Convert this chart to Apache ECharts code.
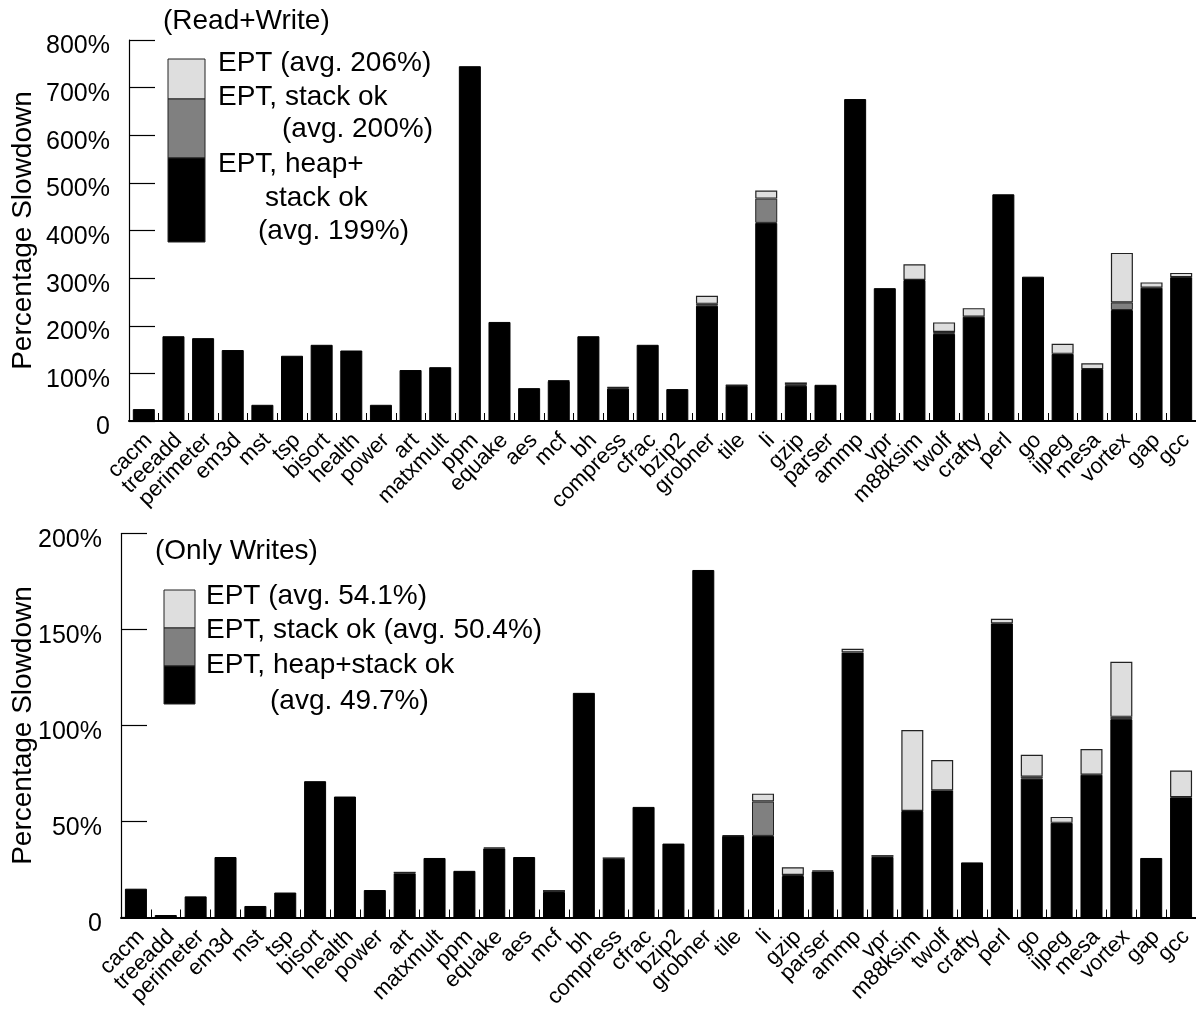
<!DOCTYPE html>
<html>
<head>
<meta charset="utf-8">
<script src="https://cdn.jsdelivr.net/npm/echarts@6/dist/echarts.min.js"></script>
<style>
  html, body { margin: 0; padding: 0; background: #fff; }
  #chart { width: 1196px; height: 1010px; }
</style>
</head>
<body>
<div id="chart"></div>
<script>
// Benchmarks on the x axis (same order in both panels)
const benchmarks = ['cacm', 'treeadd', 'perimeter', 'em3d', 'mst', 'tsp', 'bisort', 'health',
  'power', 'art', 'matxmult', 'ppm', 'equake', 'aes', 'mcf', 'bh', 'compress', 'cfrac',
  'bzip2', 'grobner', 'tile', 'li', 'gzip', 'parser', 'ammp', 'vpr', 'm88ksim', 'twolf',
  'crafty', 'perl', 'go', 'ijpeg', 'mesa', 'vortex', 'gap', 'gcc'];

// Read+Write checking: total slowdown (%) per configuration
const rwHeapStackOk = [25, 178, 174, 149, 34, 137, 160, 148, 34, 107, 113, 745, 208, 69, 84, 178, 68, 160,
  67, 242, 74, 416, 74, 76, 676, 279, 296, 183, 219, 476, 303, 141, 109, 233, 280, 302];
const rwStackOk = [25, 178, 174, 149, 34, 137, 160, 148, 34, 107, 113, 745, 208, 69, 86, 178, 70, 160,
  67, 246, 75, 467, 76, 76, 676, 279, 296, 187, 219, 476, 303, 141, 109, 249, 280, 302];
const rwEpt = [25, 178, 174, 149, 34, 137, 160, 148, 34, 107, 113, 745, 208, 69, 86, 178, 71, 160,
  67, 263, 76, 484, 81, 76, 676, 279, 329, 207, 237, 476, 303, 162, 121, 353, 291, 311];

// Write-only checking: total slowdown (%) per configuration
const wHeapStackOk = [15, 1.3, 11, 31.5, 6, 13, 71, 63, 14.3, 23, 31, 24.3, 36, 31.5, 13.3, 117, 30.5, 57.6,
  38.5, 181, 42.5, 42.5, 21.6, 24, 138, 31.6, 55.5, 66.2, 28.7, 153.2, 72.3, 49.3, 74.4, 103.3, 31, 62.6];
const wStackOk = [15, 1.3, 11, 31.5, 6, 13, 71, 63, 14.3, 23, 31, 24.3, 36, 31.5, 13.3, 117, 30.5, 57.6,
  38.5, 181, 42.5, 60.4, 22.2, 24, 138, 31.6, 55.5, 66.2, 28.7, 153.2, 73.3, 49.3, 74.4, 104.5, 31, 62.6];
const wEpt = [15, 1.3, 11, 31.5, 6, 13, 71, 63, 14.3, 23.8, 31, 24.3, 36.5, 31.5, 14.3, 117, 31.3, 57.6,
  38.5, 181, 42.8, 64.5, 26.2, 24.5, 140, 32.5, 97.6, 82, 28.7, 155.6, 84.8, 52.4, 87.7, 133.2, 31, 76.5];

// Axis ranges and legend captions
const rwAxis = { max: 800, step: 100 };
const wAxis = { max: 200, step: 50 };
const rwLegend = ['EPT (avg. 206%)', 'EPT, stack ok', '(avg. 200%)', 'EPT, heap+', 'stack ok', '(avg. 199%)'];
const wLegend = ['EPT (avg. 54.1%)', 'EPT, stack ok (avg. 50.4%)', 'EPT, heap+stack ok', '(avg. 49.7%)'];
const panelTitles = ['(Read+Write)', '(Only Writes)'];

const FONT = '"Liberation Sans", Arial, Helvetica, sans-serif';
const BLACK = '#000000', GRAY = '#808080', LIGHT = '#dedede';

// extra slowdown of one configuration on top of another (stack segment)
function increment(lower, upper) {
  return upper.map((v, i) => {
    const d = +(v - lower[i]).toFixed(2);
    return d > 0 ? d : '-';
  });
}

function pctLabel(v) { return v === 0 ? '0' : v + '%'; }

function xAxisFor(gridIndex) {
  return {
    type: 'category', gridIndex, data: benchmarks,
    axisLine: { lineStyle: { color: '#000', width: 2 } },
    axisTick: { show: true, inside: true, length: 8, alignWithLabel: false, lineStyle: { color: '#000', width: 1 } },
    axisLabel: { rotate: 45, interval: 0, fontSize: 22, color: '#000', fontFamily: FONT, margin: 11,
      verticalAlign: 'top', lineHeight: 14 }
  };
}

function yAxisFor(gridIndex, axis, nameGap) {
  return {
    type: 'value', gridIndex, min: 0, max: axis.max, interval: axis.step,
    name: 'Percentage Slowdown', nameLocation: 'middle', nameGap, nameRotate: 90, nameMoveOverlap: false,
    nameTextStyle: { fontSize: 28, color: '#000', fontFamily: FONT },
    axisLine: { show: true, lineStyle: { color: '#000', width: 1.2 } },
    axisTick: { show: true, inside: true, length: 26, lineStyle: { color: '#000', width: 1.2 } },
    splitLine: { show: false },
    axisLabel: { formatter: pctLabel, fontSize: 25, color: '#000', fontFamily: FONT, margin: 19,
      verticalAlign: 'top', lineHeight: 13 }
  };
}

function stackSeries(panel, heapStack, stackOk, ept) {
  const common = { type: 'bar', xAxisIndex: panel, yAxisIndex: panel, stack: 'p' + panel,
    barWidth: 22, animation: false, silent: true };
  return [
    Object.assign({ name: 'heap+stack ok', data: heapStack,
      itemStyle: { color: BLACK, borderColor: '#000', borderWidth: 1 } }, common),
    Object.assign({ name: 'stack ok', data: increment(heapStack, stackOk),
      itemStyle: { color: GRAY, borderColor: '#222', borderWidth: 1 } }, common),
    Object.assign({ name: 'EPT', data: increment(stackOk, ept),
      itemStyle: { color: LIGHT, borderColor: '#222', borderWidth: 1.2 } }, common)
  ];
}

function textEl(x, y, text) {
  return { type: 'text', x, y, style: { text, fill: '#000', font: '28px ' + FONT, textVerticalAlign: 'middle' } };
}
function rectEl(x, y, w, h, fill) {
  return { type: 'rect', shape: { x, y, width: w, height: h },
    style: { fill, stroke: '#222', lineWidth: 1 } };
}

const graphics = [
  textEl(163, 21, panelTitles[0]),
  rectEl(168, 59, 37, 40, LIGHT), rectEl(168, 99, 37, 59, GRAY), rectEl(168, 158, 37, 84, BLACK),
  textEl(218, 63, rwLegend[0]), textEl(218, 97, rwLegend[1]), textEl(282, 129, rwLegend[2]),
  textEl(218, 164, rwLegend[3]), textEl(265, 198, rwLegend[4]), textEl(258, 231, rwLegend[5]),

  textEl(155, 551, panelTitles[1]),
  rectEl(164, 590, 31, 38, LIGHT), rectEl(164, 628, 31, 38, GRAY), rectEl(164, 666, 31, 38, BLACK),
  textEl(206, 596, wLegend[0]), textEl(206, 630, wLegend[1]), textEl(206, 665, wLegend[2]),
  textEl(270, 701, wLegend[3])
];

const chart = echarts.init(document.getElementById('chart'), null, { renderer: 'canvas' });
chart.setOption({
  animation: false,
  backgroundColor: '#fff',
  grid: [
    { left: 129, right: 0, top: 40, bottom: 589, containLabel: false, outerBoundsMode: 'none' },
    { left: 121, right: 0, top: 533.5, bottom: 92.5, containLabel: false, outerBoundsMode: 'none' }
  ],
  xAxis: [xAxisFor(0), xAxisFor(1)],
  yAxis: [yAxisFor(0, rwAxis, 92), yAxisFor(1, wAxis, 84)],
  series: [].concat(
    stackSeries(0, rwHeapStackOk, rwStackOk, rwEpt),
    stackSeries(1, wHeapStackOk, wStackOk, wEpt)
  ),
  graphic: graphics
});
</script>
</body>
</html>
